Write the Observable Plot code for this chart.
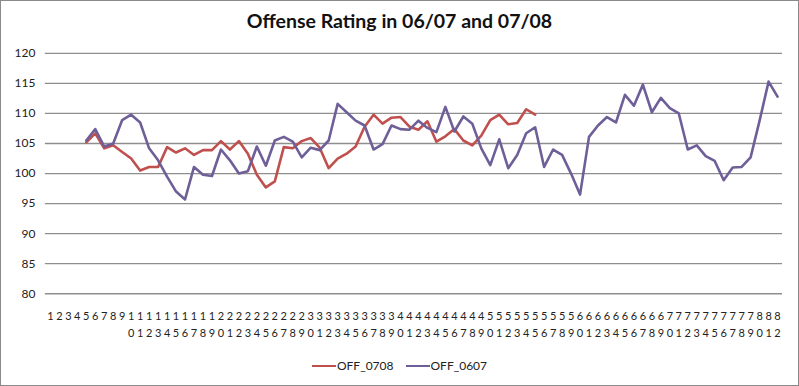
<!DOCTYPE html>
<html>
<head>
<meta charset="utf-8">
<script src="https://cdn.jsdelivr.net/npm/d3@7"></script>
<script src="https://cdn.jsdelivr.net/npm/@observablehq/plot@0.6"></script>
<style>
  html, body { margin: 0; padding: 0; background: #fff; }
  #chart { position: relative; width: 799px; height: 386px; box-sizing: border-box; border: 1px solid #8a8a8a; overflow: hidden; font-family: Lato, "Liberation Sans", sans-serif; }
  #chart > svg { position: absolute; left: -1px; top: -1px; }
  #title { position: absolute; left: 0; right: 0; top: 8px; text-align: center; font-weight: bold; font-size: 19.5px; color: #111; }
  #legend { position: absolute; left: 0; right: 0; top: 357px; text-align: center; font-size: 12px; color: #222; }
  .item { display: inline-flex; align-items: center; margin: 0 6px; }
  #legend .item svg { position: static; margin-right: 1px; }
</style>
</head>
<body>
<div id="chart">
  <div id="title">Offense Rating in 06/07 and 07/08</div>
  <div id="legend"></div>
</div>
<script>
const games = [1,2,3,4,5,6,7,8,9,10,11,12,13,14,15,16,17,18,19,20,21,22,23,24,25,26,27,28,29,30,31,32,33,34,35,36,37,38,39,40,41,42,43,44,45,46,47,48,49,50,51,52,53,54,55,56,57,58,59,60,61,62,63,64,65,66,67,68,69,70,71,72,73,74,75,76,77,78,79,80,81,82];
const yTicks = [80, 85, 90, 95, 100, 105, 110, 115, 120];

const seriesNames = ["OFF_0708", "OFF_0607"];
const seriesColors = ["#bf504d", "#6f5f98"];

// OFF_0708: games 5..55
const off0708Games = [5,6,7,8,9,10,11,12,13,14,15,16,17,18,19,20,21,22,23,24,25,26,27,28,29,30,31,32,33,34,35,36,37,38,39,40,41,42,43,44,45,46,47,48,49,50,51,52,53,54,55];
const off0708 = [105.2,106.7,104.2,104.7,103.6,102.5,100.5,101.1,101.1,104.4,103.5,104.2,103.1,103.9,103.9,105.4,104.0,105.4,103.3,99.8,97.7,98.7,104.4,104.2,105.4,105.9,104.3,100.9,102.5,103.3,104.5,107.8,109.8,108.3,109.3,109.4,107.8,107.3,108.7,105.3,106.2,107.4,105.5,104.7,106.3,108.9,109.8,108.2,108.4,110.7,109.8];

// OFF_0607: games 5..82
const off0607Games = [5,6,7,8,9,10,11,12,13,14,15,16,17,18,19,20,21,22,23,24,25,26,27,28,29,30,31,32,33,34,35,36,37,38,39,40,41,42,43,44,45,46,47,48,49,50,51,52,53,54,55,56,57,58,59,60,61,62,63,64,65,66,67,68,69,70,71,72,73,74,75,76,77,78,79,80,81,82];
const off0607 = [105.5,107.4,104.5,105.0,108.9,109.8,108.5,104.2,102.2,99.5,97.0,95.7,101.1,99.8,99.6,104.0,102.2,100.0,100.4,104.5,101.3,105.5,106.1,105.3,102.7,104.3,103.9,105.5,111.6,110.2,108.8,108.0,104.0,104.9,108.0,107.4,107.3,108.8,107.6,106.9,111.1,107.0,109.5,108.3,104.2,101.4,105.7,100.9,103.1,106.7,107.7,101.1,104.0,103.1,100.0,96.5,106.1,108.0,109.4,108.5,113.1,111.3,114.8,110.2,112.6,110.9,110.0,104.0,104.7,102.9,102.1,98.9,101.0,101.1,102.7,108.8,115.3,112.8];

const d0708 = off0708Games.map((g, i) => ({game: g, value: off0708[i]}));
const d0607 = off0607Games.map((g, i) => ({game: g, value: off0607[i]}));

const chart = Plot.plot({
  width: 799,
  height: 386,
  marginTop: 53,
  marginBottom: 92,
  marginLeft: 45,
  marginRight: 15,
  style: {fontFamily: "Lato, 'Liberation Sans', sans-serif", fontSize: "11px", color: "#222", background: "transparent"},
  x: {type: "point", domain: games, padding: 0.5},
  y: {domain: [80, 120]},
  marks: [
    Plot.gridY(yTicks, {stroke: "#8e8e8e", strokeOpacity: 1, strokeWidth: 1.3}),
    Plot.axisY(yTicks, {tickSize: 0, tickPadding: 10, fontSize: 12, label: null}),
    Plot.axisX({tickSize: 0, tickPadding: 15, fontSize: 11, lineHeight: 1.5, label: null,
      tickFormat: d => String(d).split("").join("\n")}),
    Plot.line(d0708, {x: "game", y: "value", stroke: seriesColors[0], strokeWidth: 2.6}),
    Plot.line(d0607, {x: "game", y: "value", stroke: seriesColors[1], strokeWidth: 2.6})
  ]
});
const container = document.getElementById("chart");
container.insertBefore(chart, container.firstChild);

const legend = document.getElementById("legend");
seriesNames.forEach((name, i) => {
  const span = document.createElement("span");
  span.className = "item";
  span.innerHTML = `<svg width="24" height="10"><line x1="0" x2="24" y1="5" y2="5" stroke="${seriesColors[i]}" stroke-width="2"/></svg>${name}`;
  legend.appendChild(span);
});
</script>
</body>
</html>
